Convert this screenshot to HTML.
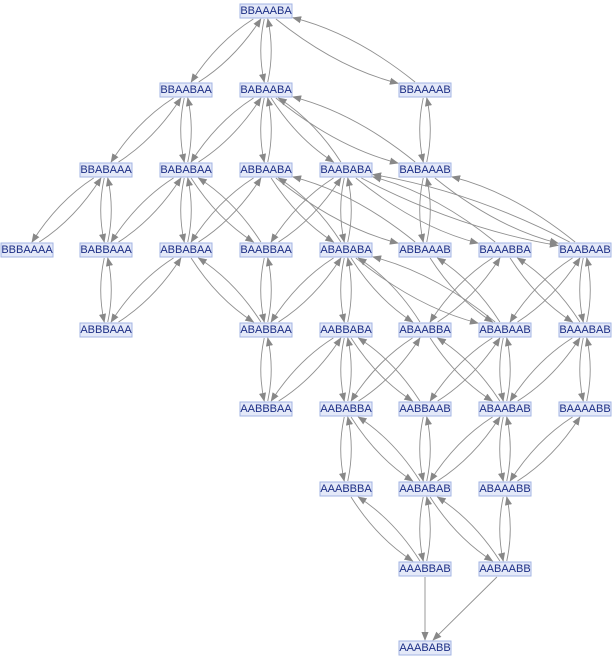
<!DOCTYPE html>
<html><head><meta charset="utf-8"><style>
body{margin:0;background:#fff}
svg{display:block}
text{font-family:"Liberation Sans",sans-serif;font-size:11px;fill:#1b2d85;text-anchor:middle;dominant-baseline:central}
rect{fill:#e4e9f8;stroke:#a3b4e3;stroke-width:1}
</style></head><body>
<svg id="s" width="612" height="662" viewBox="0 0 612 662" xmlns="http://www.w3.org/2000/svg">
<defs><marker id="a" viewBox="0 0 10 10" refX="9" refY="5" markerWidth="9" markerHeight="9" markerUnits="userSpaceOnUse" orient="auto"><path d="M0,1 L10,5 L0,9 z" fill="#888"/></marker></defs>
<g id="e" fill="none" stroke="#8f8f8f" stroke-width="0.9"></g>
<g id="n">
<rect x="240" y="4" width="52" height="14"/><text x="266" y="11">BBAAABA</text>
<rect x="160" y="83" width="52" height="14"/><text x="186" y="90">BBAABAA</text>
<rect x="240" y="83" width="52" height="14"/><text x="266" y="90">BABAABA</text>
<rect x="399" y="83" width="52" height="14"/><text x="425" y="90">BBAAAAB</text>
<rect x="80" y="163" width="52" height="14"/><text x="106" y="170">BBABAAA</text>
<rect x="160" y="163" width="52" height="14"/><text x="186" y="170">BABABAA</text>
<rect x="240" y="163" width="52" height="14"/><text x="266" y="170">ABBAABA</text>
<rect x="320" y="163" width="52" height="14"/><text x="346" y="170">BAABABA</text>
<rect x="399" y="163" width="52" height="14"/><text x="425" y="170">BABAAAB</text>
<rect x="1" y="243" width="52" height="14"/><text x="27" y="250">BBBAAAA</text>
<rect x="80" y="243" width="52" height="14"/><text x="106" y="250">BABBAAA</text>
<rect x="160" y="243" width="52" height="14"/><text x="186" y="250">ABBABAA</text>
<rect x="240" y="243" width="52" height="14"/><text x="266" y="250">BAABBAA</text>
<rect x="320" y="243" width="52" height="14"/><text x="346" y="250">ABABABA</text>
<rect x="399" y="243" width="52" height="14"/><text x="425" y="250">ABBAAAB</text>
<rect x="479" y="243" width="52" height="14"/><text x="505" y="250">BAAABBA</text>
<rect x="559" y="243" width="52" height="14"/><text x="585" y="250">BAABAAB</text>
<rect x="80" y="323" width="52" height="14"/><text x="106" y="330">ABBBAAA</text>
<rect x="240" y="323" width="52" height="14"/><text x="266" y="330">ABABBAA</text>
<rect x="320" y="323" width="52" height="14"/><text x="346" y="330">AABBABA</text>
<rect x="399" y="323" width="52" height="14"/><text x="425" y="330">ABAABBA</text>
<rect x="479" y="323" width="52" height="14"/><text x="505" y="330">ABABAAB</text>
<rect x="559" y="323" width="52" height="14"/><text x="585" y="330">BAAABAB</text>
<rect x="240" y="402" width="52" height="14"/><text x="266" y="409">AABBBAA</text>
<rect x="320" y="402" width="52" height="14"/><text x="346" y="409">AABABBA</text>
<rect x="399" y="402" width="52" height="14"/><text x="425" y="409">AABBAAB</text>
<rect x="479" y="402" width="52" height="14"/><text x="505" y="409">ABAABAB</text>
<rect x="559" y="402" width="52" height="14"/><text x="585" y="409">BAAAABB</text>
<rect x="320" y="482" width="52" height="14"/><text x="346" y="489">AAABBBA</text>
<rect x="399" y="482" width="52" height="14"/><text x="425" y="489">AABABAB</text>
<rect x="479" y="482" width="52" height="14"/><text x="505" y="489">ABAAABB</text>
<rect x="399" y="562" width="52" height="14"/><text x="425" y="569">AAABBAB</text>
<rect x="479" y="562" width="52" height="14"/><text x="505" y="569">AABAABB</text>
<rect x="399" y="641" width="52" height="14"/><text x="425" y="648">AAABABB</text>
</g>
</svg>
<script>
var g=document.getElementById('e'),N={};
document.querySelectorAll('#n text').forEach(function(t){N[t.textContent]=[+t.getAttribute('x'),+t.getAttribute('y')];});
var names=Object.keys(N);
function nb(a,b){var d=[];for(var i=0;i<7;i++)if(a[i]!=b[i])d.push(i);return d.length==2&&d[1]==d[0]+1;}
function clip(p,q){var dx=q[0]-p[0],dy=q[1]-p[1];var tx=dx?27/Math.abs(dx):1e9,ty=dy?8/Math.abs(dy):1e9;var t=Math.min(tx,ty,0.45);return [p[0]+dx*t,p[1]+dy*t];}
function edge(a,b,single){var p=N[a],q=N[b];var dx=q[0]-p[0],dy=q[1]-p[1],L=Math.hypot(dx,dy);var k=single?0:Math.min(0.11*L,20);
var c=[(p[0]+q[0])/2-dy/L*k,(p[1]+q[1])/2+dx/L*k];
var s=clip(p,c),e=clip(q,c);
var el=document.createElementNS('http://www.w3.org/2000/svg','path');
el.setAttribute('d','M'+s[0]+','+s[1]+' Q'+c[0]+','+c[1]+' '+e[0]+','+e[1]);
el.setAttribute('marker-end','url(#a)');g.appendChild(el);}
for(var i=0;i<names.length;i++)for(var j=i+1;j<names.length;j++){var a=names[i],b=names[j];if(!nb(a,b))continue;
if(b=='AAABABB'){edge(a,b,true);continue;}if(a=='AAABABB'){edge(b,a,true);continue;}
edge(a,b);edge(b,a);}
</script>
</body></html>
